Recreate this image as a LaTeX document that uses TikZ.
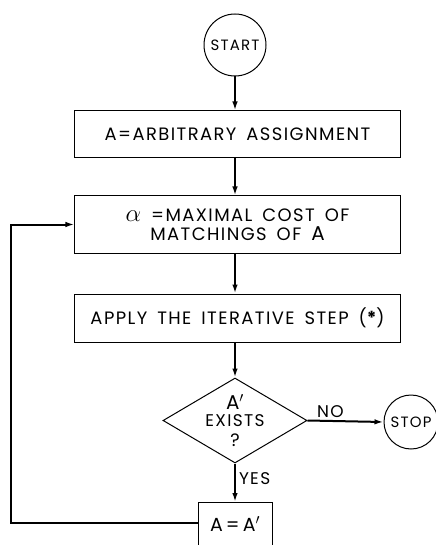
\documentclass[tikz,border=0pt]{standalone}
\usepackage{fontspec}
\setmainfont{Poppins}[LetterSpace=8,WordSpace=1.6]
\usetikzlibrary{shapes.geometric,arrows.meta}
\begin{document}
\begin{tikzpicture}[x=1bp,y=-1bp,
  box/.style={draw,line width=1bp,inner sep=0,minimum width=325bp},
  flow/.style={line width=2bp,-{Latex[length=9bp,width=5.5bp]}},
  txt/.style={font=\fontsize{18}{19}\selectfont},
  small/.style={font=\fontsize{17}{18}\selectfont},
  term/.style={draw,line width=1bp,circle,inner sep=0,minimum size=62bp,font=\fontsize{15}{16}\selectfont}]
\clip (0,0) rectangle (436,545);
\node[term] (start) at (235,45) {START};
\node[box,txt,minimum height=47bp] (b1) at (237.5,134.5) {A=ARBITRARY ASSIGNMENT};
\node[box,txt,minimum height=57bp,align=center] (b2) at (237.5,224.5) {{\fontsize{23}{19}\selectfont$\alpha$}\ =MAXIMAL COST OF\\MATCHINGS OF {\fontsize{20}{19}\selectfont A}};
\node[box,txt,minimum height=48bp] (b3) at (237.5,318) {APPLY THE ITERATIVE STEP ({\bfseries *})};
\node[draw,line width=1bp,diamond,inner sep=0,minimum width=144bp,minimum height=85bp] (d) at (235,420.5) {};
\node[font=\fontsize{20}{20}\selectfont] (dA) at (235,402) {A$'$};
\node[small] (dE) at (235,421) {EXISTS};
\node[txt] (dQ) at (235,440) {?};
\node[term,minimum size=54bp] (stop) at (411,422) {STOP};
\node[box,txt,minimum width=74bp,minimum height=60bp,anchor=north] (b4) at (235,502) {};
\node[font=\fontsize{19}{19}\selectfont] (b4t) at (235,524) {A\,=\,A$'$};
\coordinate (c1) at (11,523);
\coordinate (c2) at (11,224.5);
\draw[flow] (start.south) -- (start.south |- b1.north);
\draw[flow] (b1.south -| start.south) -- (b2.north -| start.south);
\draw[flow] (b2.south -| start.south) -- (b3.north -| start.south);
\draw[flow] (b3.south -| d.north) -- (d.north);
\draw[flow] (d.east) -- node[above,small,pos=0.3,inner sep=2bp] {NO} (stop.west);
\draw[flow] (d.south) -- node[right,small,pos=0.4,inner sep=3bp] {YES} (b4.north);
\draw[flow] (b4.west |- c1) -- (c1) -- (c2) -- (b2.west);
\end{tikzpicture}
\end{document}
